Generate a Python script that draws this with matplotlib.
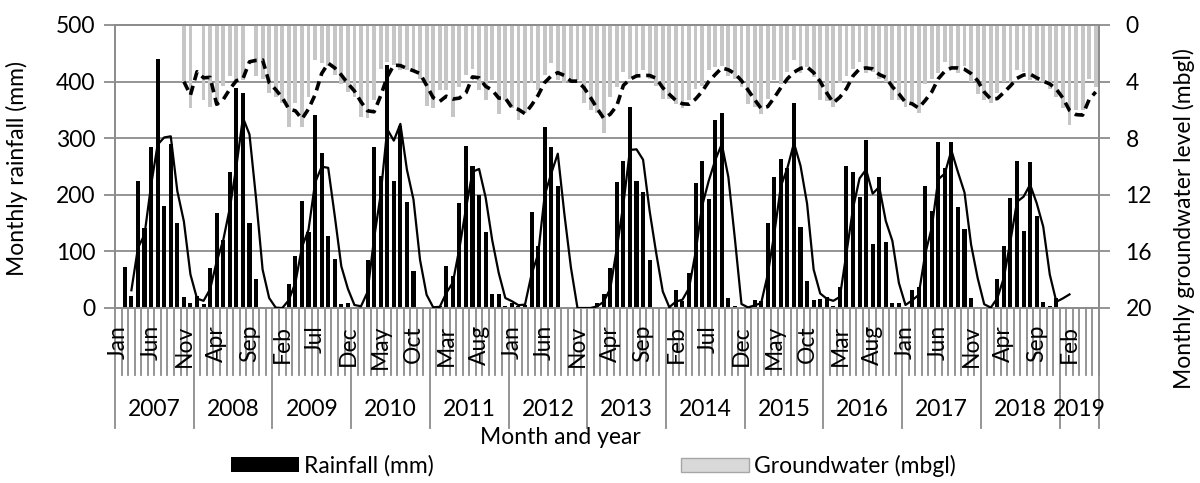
import numpy as np
import pandas as pd
import matplotlib.pyplot as plt
from matplotlib.patches import Patch
from matplotlib.transforms import blended_transform_factory

plt.rcParams['font.family'] = ['Lato', 'DejaVu Sans']

# Monthly series, Jan 2007 - Jun 2019
month_names = ['Jan', 'Feb', 'Mar', 'Apr', 'May', 'Jun',
               'Jul', 'Aug', 'Sep', 'Oct', 'Nov', 'Dec']
years = list(range(2007, 2020))
n_months = 150

# Rainfall (mm)
rainfall = [
    0, 72, 22, 225, 142, 284, 440, 180, 290, 150, 19, 9,        # 2007
    22, 7, 71, 168, 121, 240, 389, 380, 151, 51, 2, 0,          # 2008
    0, 0, 42, 92, 189, 134, 341, 274, 128, 86, 7, 9,            # 2009
    0, 0, 85, 285, 233, 430, 224, 322, 187, 66, 2, 2,           # 2010
    0, 4, 75, 56, 185, 286, 251, 200, 135, 25, 25, 3,           # 2011
    8, 4, 6, 169, 110, 319, 284, 215, 0, 0, 0, 0,               # 2012
    0, 9, 24, 70, 222, 260, 356, 225, 205, 84, 2, 2,            # 2013
    0, 32, 12, 61, 221, 259, 193, 332, 344, 18, 3, 0,           # 2014
    0, 14, 12, 151, 231, 263, 248, 363, 143, 47, 14, 16,        # 2015
    19, 3, 37, 250, 241, 196, 297, 113, 232, 116, 8, 8,         # 2016
    0, 32, 37, 216, 172, 294, 247, 294, 179, 139, 18, 2,        # 2017
    0, 0, 52, 109, 194, 260, 136, 258, 162, 11, 4, 18,          # 2018
    np.nan, np.nan, np.nan, np.nan, np.nan, np.nan,             # 2019
]
# trend values for Jan-Feb 2019
rain_trend_tail = [17, 24]

# Groundwater level (m below ground level)
groundwater = [
    np.nan, np.nan, np.nan, np.nan, np.nan, np.nan,
    np.nan, np.nan, np.nan, np.nan, 4.0, 5.9,                   # 2007
    0, 5.3, 5.8, 5.7, 4.3, 3.6, 3.9, 3.9, 0, 3.6, 3.8, 4.8,     # 2008
    5.1, 5.5, 7.2, 5.5, 7.2, 5.1, 2.5, 2.7, 2.9, 3.5, 4.2, 4.7, # 2009
    5.1, 6.5, 6.6, 5.3, 3.1, 2.6, 2.8, 3.2, 3.2, 3.3, 3.8, 5.7, # 2010
    5.9, 4.6, 4.6, 6.5, 4.4, 3.5, 3.1, 4.6, 5.3, 3.9, 6.3, 5.3, # 2011
    5.9, 6.7, 6.2, 4.1, 4.6, 3.5, 2.7, 3.9, 4.1, 3.9, 3.9, 5.5, # 2012
    6.0, 6.2, 7.6, 5.1, 4.4, 3.3, 3.8, 3.7, 3.2, 3.8, 4.3, 5.2, # 2013
    5.2, 5.6, 5.9, 5.3, 4.5, 4.3, 3.2, 3.0, 2.9, 3.6, 3.8, 4.4, # 2014
    5.6, 5.8, 6.3, 5.2, 3.9, 4.2, 3.3, 2.5, 3.4, 3.0, 3.7, 5.3, # 2015
    5.4, 5.8, 4.1, 3.6, 3.1, 2.6, 3.4, 3.3, 3.8, 4.0, 5.3, 5.3, # 2016
    5.8, 5.6, 6.2, 4.2, 3.8, 3.4, 2.6, 3.1, 3.4, 2.9, 4.0, 4.9, # 2017
    5.3, 5.5, 4.8, 4.0, 4.1, 3.2, 3.3, 3.9, 4.0, 4.0, 4.5, 5.1, # 2018
    5.9, 7.1, 6.0, 6.0, 3.8, 4.4,                               # 2019
]

x = np.arange(n_months)

# 3-month moving averages
rain_ma = pd.Series(rainfall).rolling(3).mean()
rain_ma.iloc[144:144 + len(rain_trend_tail)] = rain_trend_tail
gw_ma = pd.Series(groundwater).rolling(3, min_periods=1).mean()

grid_col = '#8c8c8c'
fs = 16.5

fig = plt.figure(figsize=(12, 4.83), dpi=100)
ax = fig.add_axes([115 / 1200, 1 - 308 / 483, (1099 - 115) / 1200, 283 / 483])
ax2 = ax.twinx()

ax.bar(x, rainfall, width=0.62, color='black', zorder=2)
ax2.bar(x, groundwater, width=0.58, color='#c6c6c6', zorder=2)
ax2.plot(x, rain_ma, transform=ax.transData, color='black', lw=1.6, zorder=3)
ax2.plot(x, gw_ma, color='black', lw=2.6, dashes=(2.6, 1.6),
         dash_capstyle='butt', zorder=3)

ax.set_xlim(-0.5, n_months - 0.5)
ax.set_ylim(0, 500)
ax.set_yticks(range(0, 501, 100))
ax2.set_ylim(20, 0)
ax2.set_yticks(range(0, 21, 4))
ax.set_xticks([])

ax.grid(axis='y', color=grid_col, lw=1.3)
ax.set_axisbelow(True)
for a in (ax, ax2):
    for s in a.spines.values():
        s.set_color(grid_col)
        s.set_linewidth(1.3)
ax.tick_params(axis='y', length=8, width=1.3, color=grid_col, pad=6,
               labelsize=fs)
ax2.tick_params(axis='y', length=8, width=1.3, color=grid_col, pad=11,
                labelsize=fs)

# category axis: month dividers, year dividers, labels
trans = blended_transform_factory(ax.transData, ax.transAxes)
for b in np.arange(-0.5, n_months, 1.0):
    bottom = -0.424 if (b + 0.5) % 12 == 0 else -0.237
    ax.plot([b, b], [0, bottom], transform=trans, color=grid_col, lw=1.3,
            clip_on=False, zorder=1)
ax.plot([n_months - 0.5] * 2, [0, -0.424], transform=trans, color=grid_col,
        lw=1.3, clip_on=False)

for i in range(0, n_months, 5):
    ax.text(i, -0.06, month_names[i % 12], transform=trans, rotation=90,
            ha='center', va='top', fontsize=fs)

for k, yr in enumerate(years):
    start = 12 * k - 0.5
    end = min(start + 12, n_months - 0.5)
    ax.text((start + end) / 2, -0.36, str(yr), transform=trans,
            ha='center', va='center', fontsize=fs)

fig.text(560 / 1200, 1 - 437 / 483, 'Month and year', ha='center',
         va='center', fontsize=fs)
fig.text(17 / 1200, 1 - 168 / 483, 'Monthly rainfall (mm)', rotation=90,
         ha='center', va='center', fontsize=fs)
fig.text(1184 / 1200, 1 - 219 / 483, 'Monthly groundwater level (mbgl)',
         rotation=90, ha='center', va='center', fontsize=fs)

leg_kw = dict(loc='center left', frameon=False, handlelength=2.95,
              handleheight=0.6, handletextpad=0.25, borderaxespad=0,
              borderpad=0, fontsize=fs)
fig.legend(handles=[Patch(facecolor='black')], labels=['Rainfall (mm)'],
           bbox_to_anchor=(231 / 1200, 1 - 466 / 483), **leg_kw)
fig.legend(handles=[Patch(facecolor='#d9d9d9', edgecolor='#a6a6a6')],
           labels=['Groundwater (mbgl)'],
           bbox_to_anchor=(681 / 1200, 1 - 466 / 483), **leg_kw)

fig.savefig('out.png', dpi=100)
